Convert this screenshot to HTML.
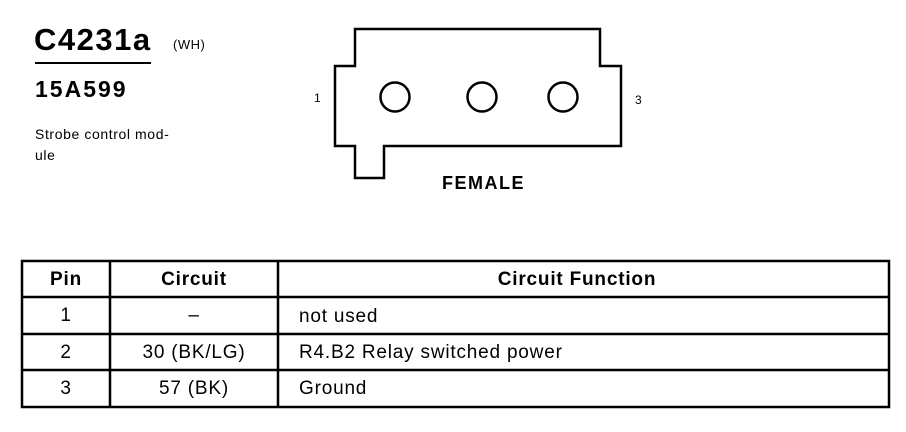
<!DOCTYPE html>
<html><head><style>
body{margin:0;background:#fff;width:906px;height:432px;overflow:hidden;position:relative;font-family:"Liberation Sans",sans-serif;color:#000}
.t{position:absolute;white-space:nowrap}
</style></head><body>
<div class="t" style="left:34px;top:22px;font-size:31px;font-weight:bold;letter-spacing:1.5px">C4231a</div>
<div class="t" style="left:173px;top:37px;font-size:13px;letter-spacing:0.5px">(WH)</div>
<div style="position:absolute;left:35px;top:62px;width:116px;height:2px;background:#000"></div>
<div class="t" style="left:35px;top:76px;font-size:23px;font-weight:bold;letter-spacing:2px">15A599</div>
<div class="t" style="left:35px;top:124px;font-size:14px;line-height:21px;letter-spacing:0.6px">Strobe control mod-<br>ule</div>
<svg style="position:absolute;left:0;top:0" width="906" height="432">
<path d="M355 29 H600 V66 H621 V146 H384 V178 H355 V146 H335 V66 H355 Z" fill="none" stroke="#000" stroke-width="2.5"/>
<circle cx="395" cy="97" r="14.5" fill="none" stroke="#000" stroke-width="2.5"/>
<circle cx="482" cy="97" r="14.5" fill="none" stroke="#000" stroke-width="2.5"/>
<circle cx="563" cy="97" r="14.5" fill="none" stroke="#000" stroke-width="2.5"/>
<text x="314" y="102" font-size="12" font-family="Liberation Sans">1</text>
<text x="635" y="104" font-size="12" font-family="Liberation Sans">3</text>
<text x="442" y="189" font-size="18" font-weight="bold" letter-spacing="1.5" font-family="Liberation Sans">FEMALE</text>
<g stroke="#000" stroke-width="2.5" fill="none">
<rect x="22" y="261" width="867" height="146"/>
<line x1="22" y1="297" x2="889" y2="297"/>
<line x1="22" y1="334" x2="889" y2="334"/>
<line x1="22" y1="370" x2="889" y2="370"/>
<line x1="110" y1="261" x2="110" y2="407"/>
<line x1="278" y1="261" x2="278" y2="407"/>
</g>
<g font-family="Liberation Sans" font-size="19" letter-spacing="0.8">
<g font-weight="bold" text-anchor="middle">
<text x="66" y="285">Pin</text><text x="194" y="285">Circuit</text><text x="577" y="285">Circuit Function</text>
</g>
<g text-anchor="middle">
<text x="66" y="321">1</text><text x="194" y="321">–</text>
<text x="66" y="358">2</text><text x="194" y="358">30 (BK/LG)</text>
<text x="66" y="394">3</text><text x="194" y="394">57 (BK)</text>
</g>
<text x="299" y="322">not used</text>
<text x="299" y="358">R4.B2 Relay switched power</text>
<text x="299" y="394">Ground</text>
</g>
</svg>
</body></html>
